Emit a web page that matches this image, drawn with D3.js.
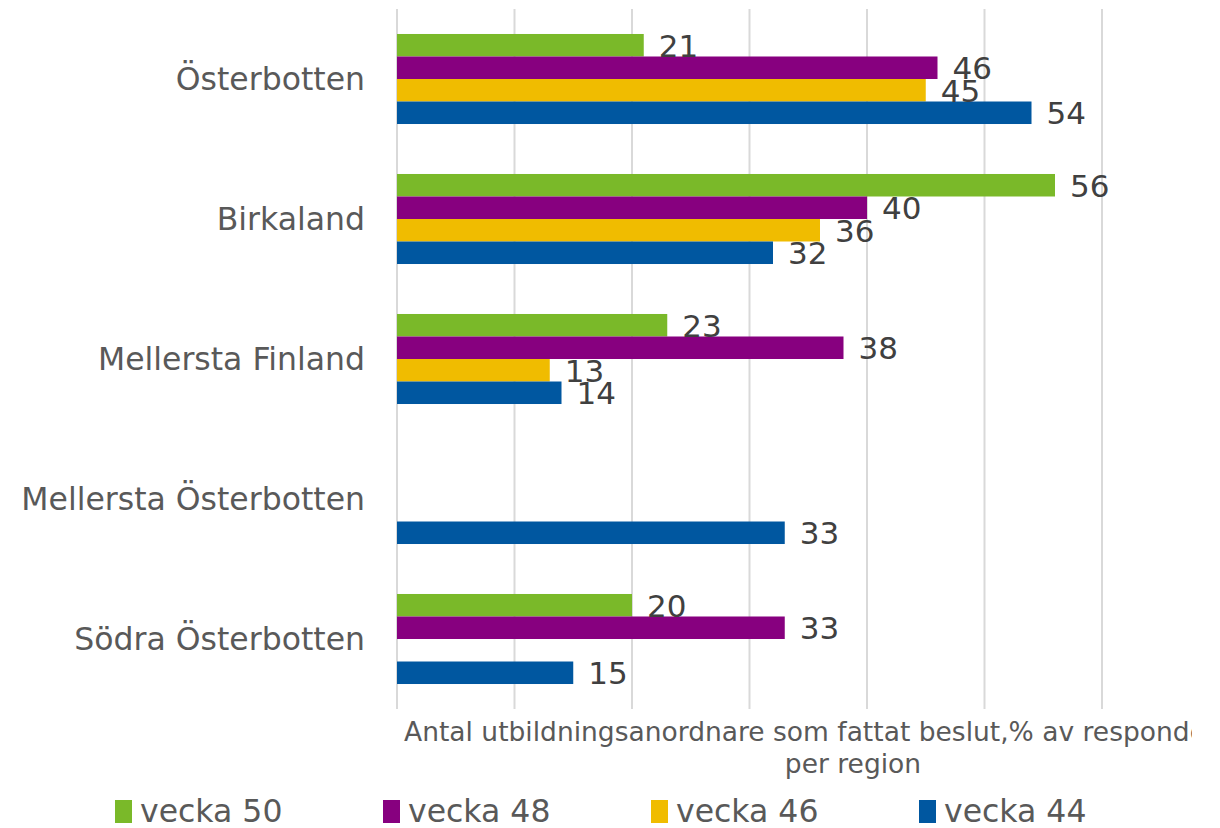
<!DOCTYPE html>
<html>
<head>
<meta charset="utf-8">
<script src="https://cdn.jsdelivr.net/npm/d3@7"></script>
<style>
  body { margin: 0; background: #fff; }
  text { font-family: "DejaVu Sans", Verdana, sans-serif; }
</style>
</head>
<body>
<div id="chart-area"></div>
<script>
// regions, top to bottom
const regions = ["Österbotten", "Birkaland", "Mellersta Finland", "Mellersta Österbotten", "Södra Österbotten"];
const weeks = ["vecka 50", "vecka 48", "vecka 46", "vecka 44"];
// values per week, null = no answer
const vecka50 = [21, 56, 23, null, 20];
const vecka48 = [46, 40, 38, null, 33];
const vecka46 = [45, 36, 13, null, null];
const vecka44 = [54, 32, 14, 33, 15];
const colors = ["#7ab929", "#87007f", "#f0bc00", "#0057a0"];
const xTicks = [0, 10, 20, 30, 40, 50, 60];

const series = [vecka50, vecka48, vecka46, vecka44];

const width = 1220, height = 828;
const svg = d3.select("#chart-area")
    .append("svg")
        .attr("width", width)
        .attr("height", height);

const x = d3.scaleLinear().domain([0, 60]).range([397, 1102]);
const y = d3.scaleBand().domain(regions).range([9, 709])
    .paddingInner(0.357).paddingOuter(0.1785);
const ySub = d3.scaleBand().domain(weeks).range([0, y.bandwidth()]);

// gridlines
svg.append("g")
    .selectAll("line")
    .data(xTicks)
    .enter()
    .append("line")
        .attr("x1", d => x(d))
        .attr("x2", d => x(d))
        .attr("y1", 9)
        .attr("y2", 709)
        .attr("stroke", "#d9d9d9")
        .attr("stroke-width", 2);

// category labels
svg.append("g")
    .selectAll("text")
    .data(regions)
    .enter()
    .append("text")
        .attr("x", 365)
        .attr("y", d => y(d) + y.bandwidth() / 2)
        .attr("dy", "0.35em")
        .attr("text-anchor", "end")
        .attr("font-size", 31.5)
        .attr("fill", "#595959")
        .text(d => d);

// bars
const rows = [];
series.forEach((s, i) => {
    s.forEach((v, j) => {
        if (v !== null) rows.push({ region: regions[j], week: weeks[i], value: v, color: colors[i] });
    });
});

const bars = svg.append("g");
bars.selectAll("rect")
    .data(rows)
    .enter()
    .append("rect")
        .attr("x", x(0))
        .attr("y", d => y(d.region) + ySub(d.week))
        .attr("width", d => x(d.value) - x(0))
        .attr("height", ySub.bandwidth())
        .attr("fill", d => d.color);

bars.selectAll("text")
    .data(rows)
    .enter()
    .append("text")
        .attr("x", d => x(d.value) + 15)
        .attr("y", d => y(d.region) + ySub(d.week) + ySub.bandwidth() / 2)
        .attr("dy", "0.37em")
        .attr("font-size", 31)
        .attr("fill", "#404040")
        .text(d => d.value);

// axis title, clipped on the right like the original
svg.append("clipPath")
    .attr("id", "clip")
    .append("rect")
        .attr("x", 0).attr("y", 700)
        .attr("width", 1192).attr("height", 90);

const title = svg.append("g").attr("clip-path", "url(#clip)");
title.append("text")
    .attr("x", 404).attr("y", 741)
    .attr("font-size", 26.5)
    .attr("fill", "#595959")
    .text("Antal utbildningsanordnare som fattat beslut,% av respondenter");
title.append("text")
    .attr("x", 853).attr("y", 773)
    .attr("text-anchor", "middle")
    .attr("font-size", 26.5)
    .attr("fill", "#595959")
    .text("per region");

// legend
const legend = svg.append("g")
    .selectAll("g")
    .data(weeks)
    .enter()
    .append("g")
        .attr("transform", (d, i) => `translate(${115 + i * 268},800)`);

legend.append("rect")
    .attr("width", 17)
    .attr("height", 23)
    .attr("fill", (d, i) => colors[i]);

legend.append("text")
    .attr("x", 25)
    .attr("y", 11)
    .attr("dy", "0.36em")
    .attr("font-size", 31.5)
    .attr("fill", "#595959")
    .text(d => d);
</script>
</body>
</html>
